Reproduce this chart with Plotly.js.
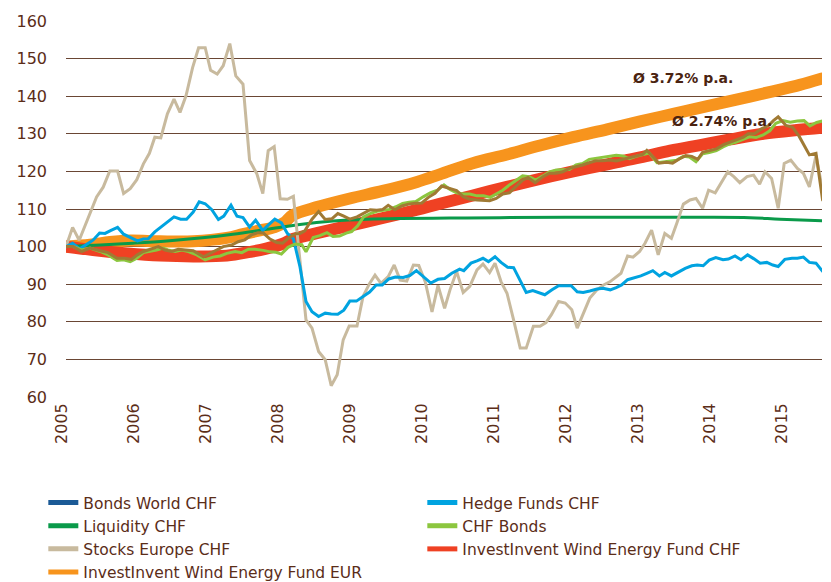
<!DOCTYPE html>
<html>
<head>
<meta charset="utf-8">
<script src="https://cdn.plot.ly/plotly-3.0.1.min.js"></script>
<style>
html,body{margin:0;padding:0;background:#fff;}
#chart{width:831px;height:582px;}
.scatterlayer path.js-line{stroke-linecap:round;}
</style>
</head>
<body>
<div id="chart"></div>
<script>
// ---- data (month index counted from Jan 2005) ----
const yearLabels = ['2005','2006','2007','2008','2009','2010','2011','2012','2013','2014','2015'];
const seriesNames = ['Bonds World CHF','Hedge Funds CHF','Liquidity CHF','CHF Bonds','Stocks Europe CHF','InvestInvent Wind Energy Fund CHF','InvestInvent Wind Energy Fund EUR'];

const bondsWorldMonth = [0,1.2,2.6,4,5.7,7,8.5,9.8,10.9,11.9,12.9,14,15.4,16.5,17.6,18.7,19.8,21.2,22.9,24,25.1,26.2,27.6,28.7,29.8,30.9,32,32.9,34,35.1,36.1,37.2,38.3,39,39.8,41,42.1,43.2,44.3,45.3,46.3,47.3,48.5,49.6,50.7,51.8,52.8,53.7,54.8,56,57.1,58.2,59.3,60.4,61.5,62.6,63.7,65.1,66.2,67.3,68.5,69.6,70.6,71.7,72.8,73.9,75,76.1,77,78.2,79.5,80.6,81.7,82.8,83.9,85,86.1,87.2,88.3,89.5,90.6,91.7,92.8,93.9,95.1,96.1,96.8,97.8,98.8,100.1,101.1,102.2,103.3,104.3,105.3,106.1,107.3,108.4,109.6,110.7,111.9,112.9,113.7,114.8,115.9,117.1,117.9,118.7,120,121.1,122.2,123,123.9,125,126.1];
const bondsWorldValue = [100,100,98.7,99.6,98.9,98.4,96.9,96.9,96.6,97.8,98.7,99.3,100,99.1,98.7,99.3,99.1,98.9,97.3,98.2,99.3,100,100.4,101.3,101.8,103.1,103.7,103.6,102,101.1,100.9,102.4,103.4,103.5,104.2,107.3,109.3,107.2,107.4,108.8,108.1,107.3,107.9,108.9,109.8,109.7,109.9,111,109.8,110.8,111.3,111.5,111.6,113.1,114.2,116.1,115.5,114.9,113.3,112.6,112.4,112.4,112.2,112.8,114,114.3,115.9,117.7,118.4,117,118.6,119.5,119.5,119.9,120.8,121.2,121.7,122.3,122.8,122.8,123,122.8,123.2,123.5,124,124.5,125.6,124,122.2,122.4,122.2,123.3,124.2,124,123.2,125.1,125.5,126,127.1,127.8,128.4,129.1,130,130.1,131.3,132.2,133.5,134.5,132.2,131.7,129.3,127.1,124.4,124.8,112.4];

const hedgeMonth = [0,1.1,2.3,3.3,4.5,5.6,6.5,7.5,8.6,9.6,10.7,11.9,12.9,13.7,14.8,15.9,17,18,19.1,20.1,21.2,22.2,23.2,24.3,25.4,26.3,27.5,28.5,29.5,30.6,31.6,32.8,33.7,34.8,35.9,36.9,37.9,39,40,41,42.1,43.2,44.2,45.3,46.3,47.3,48.4,49.5,50.6,51.7,52.7,53.8,54.9,56.2,57.3,58.4,59.6,60.8,62,63.1,64.3,65.6,66.3,67.5,68.5,69.5,70.4,71.5,72.5,73.6,74.6,75.6,76.7,77.8,78.9,79.8,81,82.1,83.2,84.2,85.2,86.2,87.3,88.5,89.5,90.7,91.7,92.6,93.6,94.7,95.8,96.8,97.8,98.9,99.8,100.9,102,103.2,104.3,105.2,106.2,107.2,108.3,109.5,110.4,111.5,112.5,113.6,114.6,115.7,116.8,117.8,118.7,119.8,121,121.9,122.9,123.9,125,126.1];
const hedgeValue = [100,100.9,99.4,100.4,101.7,103.6,103.5,104.3,105.1,103.3,102.4,101.5,102,102.1,103.9,105.2,106.6,107.9,107.3,107.3,109.2,111.9,111.4,109.8,107.2,108.1,111,108.1,107.7,105.2,107,104.3,105.7,107.3,106.3,103.5,102.1,94.6,85.4,82.7,81.4,82.3,82.1,82,83.1,85.5,85.5,86.7,87.9,89.8,89.8,91.4,91.9,91.8,92.3,93.6,91.9,90.3,91.3,91.5,92.9,94,93.6,95.6,96.2,96.9,96,97.3,95.8,94.5,94.4,91.2,87.8,88.3,87.6,87.2,88.5,89.6,89.6,89.6,88,87.8,88.2,88.7,88.9,88.5,89.1,89.8,91.2,91.6,92.2,92.9,93.6,92.2,93.1,92.2,93.2,94.2,94.9,95.1,94.9,96.4,97.1,96.5,96.7,97.5,96.5,97.8,96.8,95.6,95.8,95.1,94.7,96.6,96.9,96.9,97.2,95.8,95.6,93.4];

const liquidityMonth = [0,5.7,11.2,16.8,22.3,27.8,33.5,39,44.5,50.2,55.7,64,72.3,89,105.7,114,119,126];
const liquidityValue = [100,100.4,100.9,101.5,102.3,103.3,104.6,105.9,106.8,107.3,107.5,107.6,107.7,107.8,107.8,107.7,107.3,106.9];

const chfBondsMonth = [0,1.2,2.6,4,5.7,7,8.5,9.6,10.7,11.8,12.9,14,15.1,16.2,17,18.2,19.3,20.4,21.8,23.2,24.5,25.7,26.8,28.2,29.3,30.4,31.5,32.9,34,35,35.9,37,38.2,39.3,40,41.2,42.3,43.5,44.5,45.6,46.7,47.6,48.6,49.6,50.7,51.8,52.8,53.9,55,56.1,57.2,58.3,59.6,60.7,61.9,63,64,65.1,66.2,67.3,68.5,69.6,70.7,71.8,72.8,73.9,75,76.1,77.2,78.3,79.5,80.6,81.7,82.8,83.9,85,86.1,87.2,88.3,89.5,90.6,91.7,92.8,93.9,95,96.1,97.2,98.5,99.8,101.8,102.9,103.9,105,106.1,107.2,108.4,109.5,110.6,111.7,112.8,113.9,115,116.2,117.3,118.3,119.5,120.7,121.9,123,124,125.1,126.1];
const chfBondsValue = [100,100,99.1,99.6,98.7,97.8,96.3,96.5,96,96.9,98.4,98.7,99.1,99.6,99.1,98.7,99.1,98.7,97.8,96.5,97.2,97.5,98.2,98.7,98.4,99.3,99.3,99,98.6,98.5,98,99.8,100.7,100.5,98.6,102.4,102.9,103.7,102.7,102.8,103.6,104,105.5,107.9,108.8,109.4,109.7,109.9,110.6,111.5,111.8,112,113.3,114.3,115,116.4,115.2,114.3,114,114,113.5,113.5,113.1,114.2,115,116.4,117.7,118.8,118.6,117.7,118.8,119.9,120.4,120.5,120.5,121.7,122.1,123.2,123.5,123.7,124.1,124.3,124.1,123.4,124,124.5,124.9,122.3,122.6,123,124,123.8,122.6,124.7,125,125.5,126.5,127.3,127.8,128.5,129.2,129,129.7,130.8,132.8,133.5,133.1,133.4,133.5,132.1,133,133.4];

const stocksMonth = [0,1.1,2.2,5.1,6.2,7.3,8.6,9.6,10.7,11.8,12.9,13.9,14.8,15.8,16.9,18,19,20,21.1,22.1,23.2,24.1,25.2,26.2,27.3,28.3,29.5,30.6,31.8,32.8,33.7,34.7,35.7,36.9,37.9,40,41,42.1,43.2,44.2,45.2,46.2,47.2,48.5,49.5,50.6,51.5,52.5,53.7,54.7,55.7,56.8,57.9,58.8,59.9,61,62,63.1,64,65.1,66.2,67.3,68.5,69.5,70.6,71.5,72.5,73.5,74.6,75.7,76.7,77.9,79,80,80.9,82.1,83.2,84.3,85.2,86.2,87.3,88.5,89.6,90.7,91.7,92.5,93.6,94.5,95.6,96.5,97.6,98.7,99.8,100.9,101.8,102.9,104,105,106.1,107.1,108.2,109.3,110.3,111.3,112.3,113.5,114.6,115.6,116.5,117.6,118.7,119.7,120.8,121.9,122.9,123.9,125,126.1];
const stocksValue = [100,105.1,101.7,113.2,115.8,120.1,120.1,114.1,115.4,117.8,122,124.8,129.1,128.9,135.3,139.2,135.7,140.1,147.6,152.9,152.9,146.9,145.9,148.1,154,145.4,143.2,122.9,119.4,114.1,125.5,126.6,112.7,112.6,113.4,80.5,78.3,72.1,69.9,63,65.9,75.2,78.9,78.9,86.7,90.2,92.4,90.2,92,95.1,91.1,90.8,95.1,95,90.5,82.6,89.7,83.6,88.5,93.4,87.8,89.4,93.8,95.4,93.1,95.6,90.7,87.6,80.5,73,73,78.8,78.8,79.8,81.9,85.4,85,83.2,78.3,82.3,86.3,88.5,89.8,90.7,92,92.9,97.5,97.2,98.7,100.9,104.4,97.8,103.5,102.2,106.2,111.3,112.4,112.8,110.2,115,114.3,117.3,119.9,118.6,117,118.6,119,116.6,119.9,118.1,110.2,122.1,123,120.8,119.5,115.9,124.3,115];

const windChfMonth = [0,4.5,10.2,15.7,21.2,26.8,30.7,33.2,36.2,37.7,39,41.8,47.3,52.8,58.5,62.3,67.8,73.5,79,84.5,90.2,95.7,100.7,105.7,110.7,116.2,121.8,126];
const windChfValue = [100,99.1,98.2,97.6,97.4,97.6,98.6,99.4,100.8,102,102.5,103.6,105.6,107.6,109.8,111.4,113.6,115.9,118,120,121.9,123.7,125.5,127,128.5,130,131,131.6];

const windEurMonth = [0,4,7.3,10.7,15.7,21.2,26.8,29.5,32.3,34.8,36.5,37.7,41.8,47.3,52.8,58.5,62.3,67.8,73.5,79,84.5,90.2,95.7,101.2,106.7,112.3,117.8,122.3,126];
const windEurValue = [100,100.5,101.2,101.6,101.4,101.4,102.3,103.3,104.3,105.2,106.5,108.3,110.5,112.8,114.8,117.2,119.2,122.2,124.5,126.9,129.1,131.2,133.3,135.3,137.3,139.3,141.3,143,144.7];

const annotationText = ['Ø 3.72% p.a.','Ø 2.74% p.a.'];
const annotationMonth = [102.75, 109.4];
const annotationValue = [144.9, 133.3];

// ---- styles ----
const colors = {
  bondsLegend:'#1B5A96', bondsLine:'#A07A34', hedge:'#00A3E0', liquidity:'#0A9A4A',
  chfBonds:'#8CC63F', stocks:'#C8BA9E', windChf:'#EF4123', windEur:'#F7941D'
};
const toYear = arr => arr.map(m => 2005 + m / 12);
const TEXT = '#5B2D18';

function line(name, months, values, color, width, shape) {
  return {
    type:'scatter', mode:'lines', name:name,
    x: toYear(months), y: values,
    line:{color:color, width:width, shape:shape || 'linear'},
    showlegend:false, hoverinfo:'skip'
  };
}
function legendEntry(name, color, rank) {
  return {type:'scatter', mode:'lines', name:name, x:[null], y:[null],
          line:{color:color, width:5}, showlegend:true, legendrank:rank, hoverinfo:'skip'};
}

const traces = [
  line(seriesNames[6], windEurMonth, windEurValue, colors.windEur, 12, 'spline'),
  line(seriesNames[5], windChfMonth, windChfValue, colors.windChf, 12, 'spline'),
  line(seriesNames[2], liquidityMonth, liquidityValue, colors.liquidity, 3, 'spline'),
  line(seriesNames[4], stocksMonth, stocksValue, colors.stocks, 3),
  line(seriesNames[1], hedgeMonth, hedgeValue, colors.hedge, 3),
  line(seriesNames[3], chfBondsMonth, chfBondsValue, colors.chfBonds, 3),
  line(seriesNames[0], bondsWorldMonth, bondsWorldValue, colors.bondsLine, 3),
  legendEntry(seriesNames[0], colors.bondsLegend, 1),
  legendEntry(seriesNames[1], colors.hedge, 2),
  legendEntry(seriesNames[2], colors.liquidity, 3),
  legendEntry(seriesNames[3], colors.chfBonds, 4),
  legendEntry(seriesNames[4], colors.stocks, 5),
  legendEntry(seriesNames[5], colors.windChf, 6),
  legendEntry(seriesNames[6], colors.windEur, 7)
];

const annotations = annotationText.map((t, i) => ({
  x: 2005 + annotationMonth[i] / 12, y: annotationValue[i], xref:'x', yref:'y',
  text: t, showarrow:false,
  font:{family:'DejaVu Sans', size:14, weight:'bold', color:'#4A2310'}
}));

const layout = {
  width:831, height:582,
  margin:{l:66, r:9, t:21, b:185, autoexpand:false},
  paper_bgcolor:'#ffffff', plot_bgcolor:'#ffffff',
  showlegend:true,
  font:{family:'DejaVu Sans', color:TEXT},
  xaxis:{
    range:[2005, 2015.5], tickmode:'array',
    tickvals: yearLabels.map(Number), ticktext: yearLabels,
    tickangle:-90, ticks:'', showgrid:false, zeroline:false, showline:false,
    tickfont:{family:'DejaVu Sans', size:16, color:TEXT}, automargin:false,
    ticklabelstandoff:2, ticklabelshift:-4
  },
  yaxis:{
    range:[60,160], dtick:10, tick0:60, ticks:'', showgrid:true,
    gridcolor:'#6A4634', gridwidth:1, zeroline:false, showline:false,
    tickfont:{family:'DejaVu Sans', size:16, color:TEXT}, automargin:false,
    ticklabelstandoff:18
  },
  legend:{
    orientation:'h', x:-0.030, xanchor:'left', y:-0.2367, yanchor:'top',
    entrywidth:334, entrywidthmode:'pixels', traceorder:'normal',
    font:{family:'DejaVu Sans', size:15.5, color:TEXT},
    bgcolor:'rgba(0,0,0,0)', borderwidth:0, itemwidth:30
  },
  annotations: annotations
};

Plotly.newPlot('chart', traces, layout, {displayModeBar:false, staticPlot:true});
</script>
</body>
</html>
